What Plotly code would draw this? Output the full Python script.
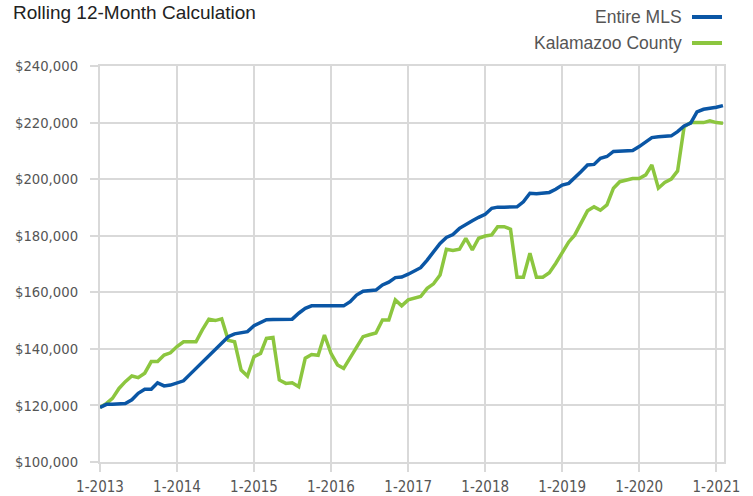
import plotly.graph_objects as go
import pandas as pd

months = pd.date_range("2013-01-01", "2021-02-01", freq="MS")

entire_mls = [
    119.3, 120.4, 120.4, 120.4, 120.7, 122.0, 124.3, 125.7, 125.7, 128.0, 126.9, 127.2,
    128.0, 128.7, 130.8, 133.1, 135.5, 137.5, 139.6, 142.3, 144.3, 145.3, 145.6, 146.1,
    148.2, 149.4, 150.3, 150.4, 150.4, 150.4, 150.5, 152.6, 154.3, 155.2, 155.2, 155.2,
    155.2, 155.2, 155.2, 156.7, 159.0, 160.4, 160.5, 160.8, 162.6, 163.6, 165.2, 165.4,
    166.4, 167.6, 168.7, 171.4, 174.3, 177.3, 179.4, 180.4, 182.6, 184.1, 185.3, 186.5,
    187.6, 189.7, 190.1, 190.1, 190.1, 190.2, 192.0, 195.0, 194.8, 195.1, 195.3, 196.4,
    197.9, 198.5, 200.3, 202.7, 205.0, 205.2, 207.4, 208.0, 209.8, 210.0, 210.0, 210.1,
    211.5, 213.0, 214.7, 215.0, 215.0, 215.3, 216.8, 218.8, 219.8, 223.8, 224.7, 225.0,
    225.4, 226.0,
]

kalamazoo = [
    119.3, 120.7, 122.5, 126.0, 128.4, 130.4, 129.8, 131.4, 135.5, 135.5, 137.8, 138.6,
    140.8, 142.5, 142.5, 142.5, 146.7, 150.5, 150.0, 150.6, 143.0, 142.5, 132.5, 130.4,
    137.2, 138.4, 143.7, 144.0, 129.0, 127.8, 128.0, 126.6, 136.7, 138.0, 137.7, 144.9,
    138.4, 134.3, 133.1, 136.8, 140.8, 144.3, 145.0, 145.6, 150.2, 150.2, 157.3, 155.2,
    157.3, 158.0, 158.5, 161.4, 163.0, 166.1, 175.2, 174.8, 175.2, 179.1, 175.0, 179.1,
    179.9, 180.3, 183.2, 183.2, 182.3, 165.3, 165.3, 173.8, 165.3, 165.3, 166.9, 170.2,
    174.3, 177.8, 180.2, 184.9, 188.8, 190.2, 189.0, 190.9, 196.8, 199.1, 199.7, 200.2,
    200.2, 201.5, 205.0, 196.8, 198.8, 200.0, 202.9, 218.5, 220.0, 220.0, 220.0, 220.6,
    220.0, 219.8,
]

entire_mls = [v * 1000 for v in entire_mls]
kalamazoo = [v * 1000 for v in kalamazoo]

x_tick_dates = ["2013-01-01", "2014-01-01", "2015-01-01", "2016-01-01", "2017-01-01",
                "2018-01-01", "2019-01-01", "2020-01-01", "2021-01-01"]
x_tick_labels = ["1-2013", "1-2014", "1-2015", "1-2016", "1-2017",
                 "1-2018", "1-2019", "1-2020", "1-2021"]
y_tick_vals = [100000, 120000, 140000, 160000, 180000, 200000, 220000, 240000]
y_tick_labels = ["$100,000", "$120,000", "$140,000", "$160,000", "$180,000",
                 "$200,000", "$220,000", "$240,000"]

series_names = ["Entire MLS", "Kalamazoo County"]
series_colors = ["#0a56a5", "#8cc63f"]

FONT = "DejaVu Sans Condensed, Liberation Sans, Arial, sans-serif"
TFONT = "Liberation Sans, Arial, sans-serif"
GRID = "#d9d9d9"

W, H = 753, 496
ML, MR, MT, MB = 100, 29, 66, 34

fig = go.Figure()
fig.add_trace(go.Scatter(x=months, y=kalamazoo, mode="lines", name=series_names[1],
                         line=dict(color=series_colors[1], width=3.5)))
fig.add_trace(go.Scatter(x=months, y=entire_mls, mode="lines", name=series_names[0],
                         line=dict(color=series_colors[0], width=3.5)))

fig.update_layout(
    width=W, height=H,
    margin=dict(l=ML, r=MR, t=MT, b=MB, pad=0),
    paper_bgcolor="white", plot_bgcolor="white",
    showlegend=False,
    font=dict(family=FONT, size=15, color="#555555"),
    title=dict(text="Rolling 12-Month Calculation", xref="container", x=13 / W,
               xanchor="left", yref="container", y=1 - 12 / H, yanchor="middle",
               font=dict(family=TFONT, size=19, color="#222222")),
)

fig.update_xaxes(
    type="date", automargin=False,
    range=["2013-01-01", "2021-02-06"],
    tickvals=x_tick_dates, ticktext=x_tick_labels,
    showgrid=True, gridcolor=GRID, gridwidth=2,
    showline=True, linecolor=GRID, linewidth=2, mirror=True,
    ticks="outside", ticklen=8, tickcolor=GRID, tickwidth=2,
    ticklabelstandoff=2,
    tickfont=dict(family=FONT, size=15, color="#555555"),
    zeroline=False,
)
fig.update_yaxes(
    automargin=False,
    range=[100000, 240000],
    tickvals=y_tick_vals, ticktext=y_tick_labels,
    showgrid=True, gridcolor=GRID, gridwidth=2,
    showline=True, linecolor=GRID, linewidth=2, mirror=True,
    ticks="outside", ticklen=8, tickcolor=GRID, tickwidth=2,
    ticklabelstandoff=9,
    tickfont=dict(family=FONT, size=14.7, color="#555555"),
    zeroline=False,
)

# custom legend: text right-aligned, line sample to the right
PW = W - ML - MR
PH = H - MT - MB
legend_y = [17, 43]
for i, name in enumerate(series_names):
    ypaper = 1 + (MT - legend_y[i]) / PH
    fig.add_annotation(text=name, xref="paper", yref="paper",
                       x=(684 - ML) / PW, y=ypaper,
                       xanchor="right", yanchor="middle", showarrow=False,
                       font=dict(family=TFONT, size=17.5, color="#555555"))
    fig.add_shape(type="line", xref="paper", yref="paper",
                  x0=(692 - ML) / PW, x1=(722 - ML) / PW, y0=ypaper, y1=ypaper,
                  line=dict(color=series_colors[i], width=4))

fig.write_html("out.html", config={"displayModeBar": False},
               post_script="document.body.style.margin='0';document.body.style.padding='0';")
